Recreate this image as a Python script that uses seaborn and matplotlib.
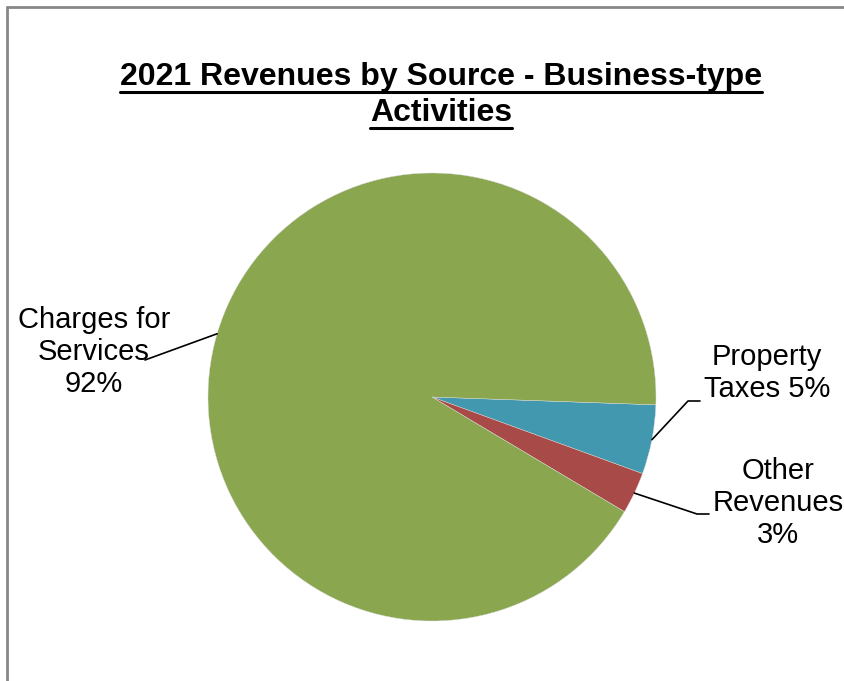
import numpy as np
import matplotlib
matplotlib.use("Agg")
import matplotlib.pyplot as plt
import seaborn as sns

# Data
categories = ["Property Taxes", "Other Revenues", "Charges for Services"]
shares = [5, 3, 92]
label_texts = ["Property\nTaxes 5%", "Other\nRevenues\n3%", "Charges for\nServices\n92%"]
colors = ["#4198AF", "#A84A47", "#8AA64F"]
title_lines = ["2021 Revenues by Source - Business-type", "Activities"]

sns.set_theme(style="white")
plt.rcParams['font.family'] = ['Liberation Sans', 'DejaVu Sans']

W, H = 844, 681
fig = plt.figure(figsize=(W / 100, H / 100), dpi=100)
ax = fig.add_axes([0, 0, 1, 1])

cx, cy, r = 432, H - 397, 224
start = -2
wedges, _ = ax.pie(shares, colors=colors, startangle=start, counterclock=False,
                   center=(cx, cy), radius=r, frame=True,
                   wedgeprops=dict(linewidth=0.3, edgecolor="#dddddd"))
ax.set_xlim(0, W)
ax.set_ylim(0, H)
ax.set_aspect("equal")
ax.axis("off")

# label placement (text anchor in pixel coords from top)
label_pos = [(767, 373), (778, 503), (94, 352)]
bend = [(688, 401, 700), (697, 514, 709), None]
tot = sum(shares)
ang = start
for i, (s, txt) in enumerate(zip(shares, label_texts)):
    mid = ang - s / tot * 360 / 2
    ang -= s / tot * 360
    ex = cx + r * np.cos(np.radians(mid))
    ey = cy + r * np.sin(np.radians(mid))
    tx, ty = label_pos[i]
    ax.text(tx, H - ty, txt, ha="center", va="center", fontsize=21,
            linespacing=1.2, color="black", clip_on=False)
    if bend[i] is not None:
        bx, by, hx = bend[i]
        ax.plot([ex, bx, hx], [ey, H - by, H - by], color="black", lw=1.2)
    else:
        ax.plot([ex, 145], [ey, H - 360], color="black", lw=1.2)

# title with underline
title_y = [77, 113]
fig.canvas.draw()
renderer = fig.canvas.get_renderer()
for line, y in zip(title_lines, title_y):
    t = ax.text(441, H - y, line, ha="center", va="center", fontsize=23,
                fontweight="bold", color="black")
    bb = t.get_window_extent(renderer=renderer)
    uy = bb.y0 + 0.5
    fig.add_artist(plt.Line2D([bb.x0 / W, bb.x1 / W], [uy / H, uy / H],
                              color="black", lw=2.2, transform=fig.transFigure))

# chart border (left and top)
fig.add_artist(plt.Line2D([7 / W, 7 / W], [0, 1 - 7 / H], color="#888888", lw=2,
                          transform=fig.transFigure))
fig.add_artist(plt.Line2D([7 / W, 1], [1 - 7 / H, 1 - 7 / H], color="#888888", lw=2,
                          transform=fig.transFigure))

fig.savefig("out.png", dpi=100, facecolor="white")
